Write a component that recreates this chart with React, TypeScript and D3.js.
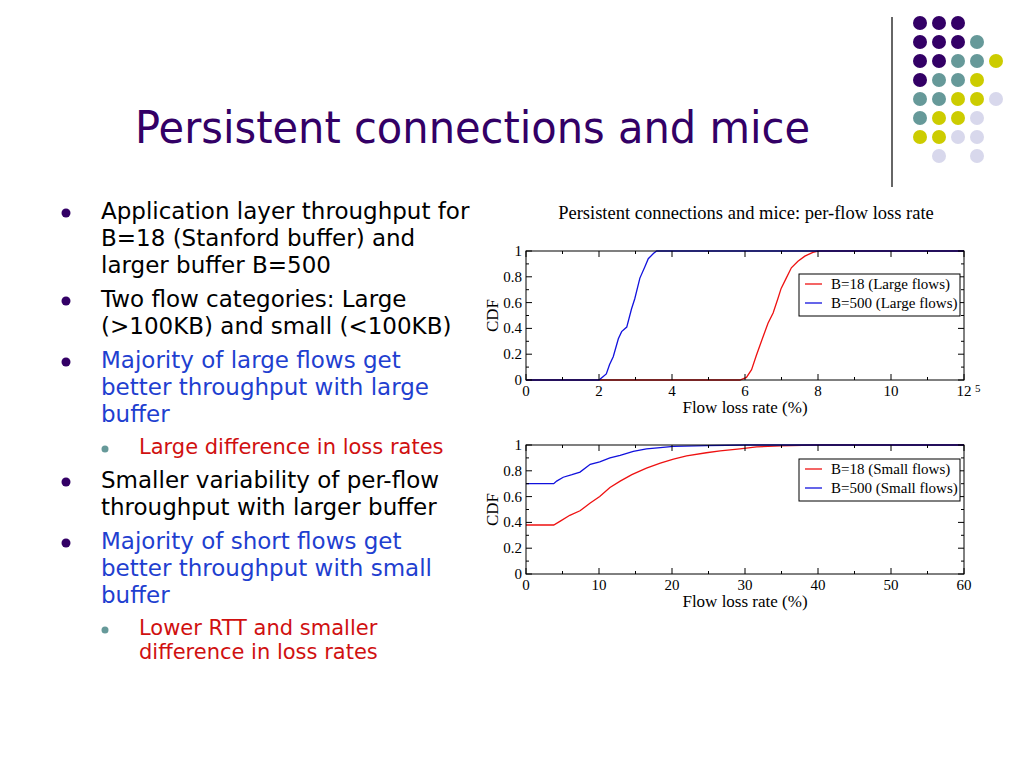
import * as d3 from "d3";

const slideTitle = "Persistent connections and mice";
const chartTitle = "Persistent connections and mice: per-flow loss rate";
const xAxisTitle = "Flow loss rate (%)";
const yAxisTitle = "CDF";

const bullets = [
  { level: 0, color: "#000000", lines: ["Application layer throughput for", "B=18 (Stanford buffer) and", "larger buffer B=500"] },
  { level: 0, color: "#000000", lines: ["Two flow categories: Large", "(>100KB) and small (<100KB)"] },
  { level: 0, color: "#1f3fd0", lines: ["Majority of large flows get", "better throughput with large", "buffer"] },
  { level: 1, color: "#d01010", lines: ["Large difference in loss rates"] },
  { level: 0, color: "#000000", lines: ["Smaller variability of per-flow", "throughput with larger buffer"] },
  { level: 0, color: "#1f3fd0", lines: ["Majority of short flows get", "better throughput with small", "buffer"] },
  { level: 1, color: "#d01010", lines: ["Lower RTT and smaller", "difference in loss rates"] },
];

// decorative dot grid, P purple, T teal, Y yellow, L lavender
const dotRows = ["PPP..", "PPPT.", "PPTTY", "PTTY.", "TTYYL", "TYYL.", "YYLL.", ".L.L."];
const dotColors: Record<string, string> = { P: "#330066", T: "#669999", Y: "#cccc00", L: "#d8d8ec" };

const yTicks = [0, 0.2, 0.4, 0.6, 0.8, 1];
const yMinor = [0.1, 0.3, 0.5, 0.7, 0.9];

const largeTicks = [0, 2, 4, 6, 8, 10, 12];
const largeMinor = [1, 3, 5, 7, 9, 11];
const smallTicks = [0, 10, 20, 30, 40, 50, 60];
const smallMinor = [5, 15, 25, 35, 45, 55];

const largeB18: [number, number][] = [
  [0, 0], [5.86, 0], [6.04, 0.02], [6.18, 0.08], [6.31, 0.19], [6.45, 0.3], [6.63, 0.44],
  [6.77, 0.52], [6.9, 0.63], [6.99, 0.71], [7.13, 0.79], [7.27, 0.87], [7.45, 0.92],
  [7.64, 0.96], [7.86, 0.99], [8.0, 1], [12, 1],
];
const largeB500: [number, number][] = [
  [0, 0], [2.0, 0], [2.2, 0.047], [2.29, 0.12], [2.39, 0.18], [2.53, 0.32], [2.62, 0.375],
  [2.76, 0.41], [2.89, 0.55], [2.98, 0.63], [3.12, 0.79], [3.26, 0.88], [3.35, 0.94],
  [3.49, 0.98], [3.58, 1], [12, 1],
];
const smallB18: [number, number][] = [
  [0, 0.38], [3.8, 0.38], [4.7, 0.41], [6.0, 0.455], [7.4, 0.49], [8.8, 0.55], [10.1, 0.6],
  [11.5, 0.67], [12.9, 0.72], [14.5, 0.77], [16.5, 0.82], [18.4, 0.86], [20.2, 0.89],
  [22.0, 0.915], [24.7, 0.94], [26.6, 0.955], [29.3, 0.97], [31.6, 0.985], [34.8, 0.993],
  [39.4, 1], [60, 1],
];
const smallB500: [number, number][] = [
  [0, 0.7], [3.8, 0.7], [4.2, 0.72], [5.1, 0.75], [6.3, 0.77], [7.4, 0.79], [8.8, 0.85],
  [10.1, 0.87], [11.5, 0.9], [12.9, 0.92], [14.7, 0.95], [16.5, 0.97], [18.4, 0.98],
  [20.2, 0.99], [24.7, 0.995], [30.2, 1], [60, 1],
];

const largeLegend = ["B=18 (Large flows)", "B=500 (Large flows)"];
const smallLegend = ["B=18 (Small flows)", "B=500 (Small flows)"];
const seriesColors = ["#ee1111", "#1111dd"];

const serif = "'Liberation Serif', 'Times New Roman', serif";
const sans = "'Comic Sans MS', 'DejaVu Sans', sans-serif";

interface PanelProps {
  top: number;
  xMax: number;
  ticks: number[];
  minor: number[];
  series: [number, number][][];
  legend: string[];
  legendTop: number;
  extraFive?: boolean;
}

function CdfPanel({ top, xMax, ticks, minor, series, legend, legendTop, extraFive }: PanelProps) {
  const left = 526, right = 964, h = 129;
  const x = d3.scaleLinear().domain([0, xMax]).range([left, right]);
  const y = d3.scaleLinear().domain([0, 1]).range([top + h, top]);
  const line = d3.line<[number, number]>().x((d) => x(d[0])).y((d) => y(d[1]));
  const bottom = top + h;
  const lx = 799, lw = 161, lh = 42;
  return (
    <g>
      {series.map((s, i) => (
        <path key={i} d={line(s) ?? ""} fill="none" stroke={seriesColors[i]} strokeWidth={1.3} />
      ))}
      <rect x={left} y={top} width={right - left} height={h} fill="none" stroke="#000" strokeWidth={1} />
      {ticks.map((t) => (
        <g key={"x" + t}>
          <line x1={x(t)} x2={x(t)} y1={bottom} y2={bottom - 6} stroke="#000" />
          <line x1={x(t)} x2={x(t)} y1={top} y2={top + 6} stroke="#000" />
          <text x={x(t)} y={bottom + 16} textAnchor="middle" fontFamily={serif} fontSize={15}>{t}</text>
        </g>
      ))}
      {minor.map((t) => (
        <g key={"xm" + t}>
          <line x1={x(t)} x2={x(t)} y1={bottom} y2={bottom - 3} stroke="#000" />
          <line x1={x(t)} x2={x(t)} y1={top} y2={top + 3} stroke="#000" />
        </g>
      ))}
      {yTicks.map((t) => (
        <g key={"y" + t}>
          <line x1={left} x2={left + 6} y1={y(t)} y2={y(t)} stroke="#000" />
          <line x1={right} x2={right - 6} y1={y(t)} y2={y(t)} stroke="#000" />
          <text x={left - 4} y={y(t) + 5} textAnchor="end" fontFamily={serif} fontSize={15}>{t}</text>
        </g>
      ))}
      {yMinor.map((t) => (
        <g key={"ym" + t}>
          <line x1={left} x2={left + 3} y1={y(t)} y2={y(t)} stroke="#000" />
          <line x1={right} x2={right - 3} y1={y(t)} y2={y(t)} stroke="#000" />
        </g>
      ))}
      {extraFive && (
        <text x={975} y={bottom + 12} fontFamily={serif} fontSize={11}>5</text>
      )}
      <text x={(left + right) / 2} y={bottom + 33} textAnchor="middle" fontFamily={serif} fontSize={17}>{xAxisTitle}</text>
      <text transform={`translate(498,${top + h / 2}) rotate(-90)`} textAnchor="middle" fontFamily={serif} fontSize={17}>{yAxisTitle}</text>
      <rect x={lx} y={top + legendTop} width={lw} height={lh} fill="#fff" stroke="#000" strokeWidth={1} />
      {legend.map((l, i) => (
        <g key={l}>
          <line x1={lx + 6} x2={lx + 23} y1={top + legendTop + 10 + i * 19} y2={top + legendTop + 10 + i * 19} stroke={seriesColors[i]} strokeWidth={1.3} />
          <text x={lx + 32} y={top + legendTop + 15 + i * 19} fontFamily={serif} fontSize={15}>{l}</text>
        </g>
      ))}
    </g>
  );
}

export default function App() {
  // lay out bullet lines
  let cy = 211;
  const rows: { text: string; y: number; level: number; color: string; first: boolean }[] = [];
  bullets.forEach((b, bi) => {
    if (bi > 0) cy += b.level === 1 || bullets[bi - 1].level === 1 ? 33 : 34;
    b.lines.forEach((t, li) => {
      if (li > 0) cy += b.level === 1 ? 24 : 27;
      rows.push({ text: t, y: cy, level: b.level, color: b.color, first: li === 0 });
    });
  });

  return (
    <svg width={1024} height={768} style={{ position: "absolute", left: 0, top: 0, background: "#fff" }}>
      <rect width={1024} height={768} fill="#fff" />
      {dotRows.map((r, ri) =>
        r.split("").map((c, ci) =>
          c === "." ? null : (
            <circle key={`${ri}-${ci}`} cx={920 + ci * 19} cy={23 + ri * 19} r={7} fill={dotColors[c]} />
          )
        )
      )}
      <line x1={892} x2={892} y1={17} y2={187} stroke="#333" strokeWidth={1.5} />
      <text x={135} y={143} fontFamily={sans} fontSize={44} fill="#330066" textLength={675} lengthAdjust="spacingAndGlyphs">{slideTitle}</text>

      {rows.map((r, i) => (
        <g key={i}>
          {r.first && (
            <circle cx={r.level === 0 ? 66 : 105} cy={r.y + 2} r={r.level === 0 ? 4.5 : 3.5} fill={r.level === 0 ? "#330066" : "#669999"} />
          )}
          <text x={r.level === 0 ? 101 : 139} y={r.y} dominantBaseline="central" fontFamily={sans} fontSize={r.level === 0 ? 23 : 21} fill={r.color}>{r.text}</text>
        </g>
      ))}

      <text x={746} y={219} textAnchor="middle" fontFamily={serif} fontSize={18.5}>{chartTitle}</text>
      <CdfPanel top={251} xMax={12} ticks={largeTicks} minor={largeMinor} series={[largeB18, largeB500]} legend={largeLegend} legendTop={23} extraFive />
      <CdfPanel top={445} xMax={60} ticks={smallTicks} minor={smallMinor} series={[smallB18, smallB500]} legend={smallLegend} legendTop={14} />
    </svg>
  );
}
